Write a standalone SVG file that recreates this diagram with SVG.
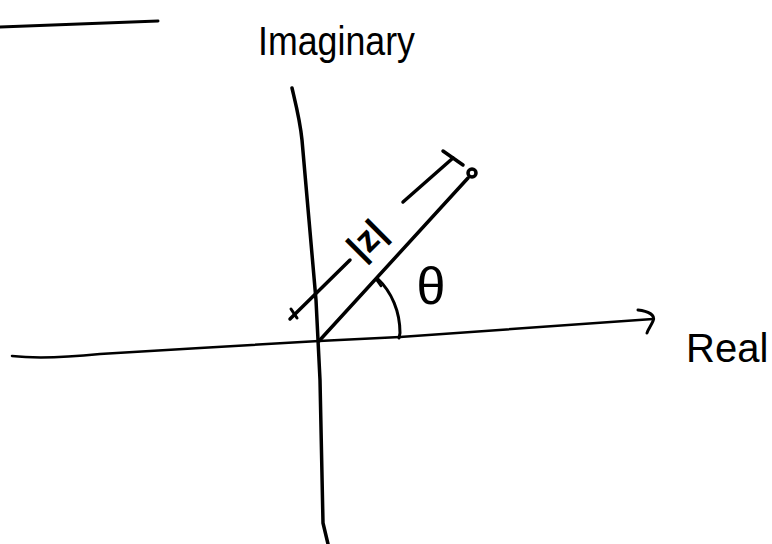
<svg xmlns="http://www.w3.org/2000/svg" width="772" height="544" viewBox="0 0 772 544">
<style>
.s{fill:none;stroke:#000;stroke-linecap:round;stroke-linejoin:round}
.t{fill:#000;font-family:"Liberation Sans","DejaVu Sans",sans-serif}
</style>
<rect width="772" height="544" fill="#fff"/>
<g id="stray-stroke">
<path class="s" stroke-width="3" d="M0,27 L158,21"/>
</g>
<g id="connectors">
<path id="real-axis" class="s" stroke-width="2.5" d="M12,356 C30,358 60,358 100,354 L200,348 L319,341 L400,337 L653,319"/>
<path id="real-arrowhead" class="s" stroke-width="3" d="M638,310 C648,311 656,315 653,321 C651,326 648,329 647,333"/>
<path id="imag-axis" class="s" stroke-width="3.5" d="M292,88 C296,105 300,120 302,140 C306,190 312,250 316,300 L320,380 L323,523 L328,544"/>
<path id="vector" class="s" stroke-width="3.5" d="M319,341 L468,178"/>
<circle id="point" cx="472" cy="173" r="4" fill="none" stroke="#000" stroke-width="3.5"/>
<path id="theta-arc" class="s" stroke-width="3" d="M377,278 C392,292 400,312 400,333 L399,338"/>
<path id="theta-tick" class="s" stroke-width="2.5" d="M376,279 L381,286"/>
<path id="dim-seg1" class="s" stroke-width="3.5" d="M290,319 L350,260"/>
<path id="dim-tick1" class="s" stroke-width="3" d="M291,309 L297,318"/>
<path id="dim-seg2" class="s" stroke-width="3.5" d="M403,202 L453,158"/>
<path id="dim-cap2" class="s" stroke-width="3.5" d="M443,151 L463,165"/>
</g>
<g id="label-imaginary">
<text class="t" x="258" y="55" font-size="40" textLength="157" lengthAdjust="spacingAndGlyphs">Imaginary</text>
</g>
<g id="label-real">
<text class="t" x="686" y="362" font-size="40">Real</text>
</g>
<g id="label-modulus">
<text class="t" x="0" y="0" font-size="36" font-weight="bold" text-anchor="middle" transform="translate(375,248) rotate(-45)">|z|</text>
</g>
<g id="label-theta">
<text class="t" x="431" y="304" font-size="52" text-anchor="middle">θ</text>
</g>
</svg>
